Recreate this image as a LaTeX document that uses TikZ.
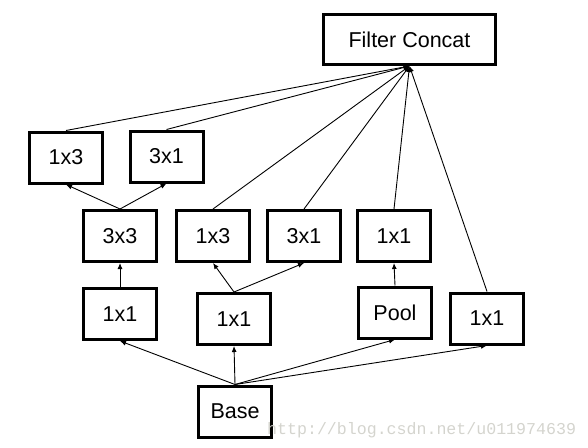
\documentclass[tikz,border=0pt]{standalone}
\usepackage{fontspec}
\setmainfont{Liberation Sans}
\newfontfamily\wmfont{Liberation Mono}
\usetikzlibrary{arrows.meta}
\definecolor{wmgray}{RGB}{212,212,206}
\begin{document}
\begin{tikzpicture}[x=1pt,y=-1pt,
  blk/.style={draw=black,line width=3pt,minimum width=73pt,minimum height=51pt,inner sep=0pt,
    font=\fontsize{21.5}{25}\selectfont},
  conn/.style={line width=0.9pt,-{Latex[length=6pt,width=5pt]}},
  plain/.style={line width=0.9pt}]
\useasboundingbox (0,0) rectangle (588,447);
\node[blk,minimum width=172pt,minimum height=50pt] (concat) at (409.5,39.5) {Filter Concat};
\node[blk] (a13) at (66,157.5) {1x3};
\node[blk] (a31) at (166.5,156.5) {3x1};
\node[blk] (b33) at (120,236) {3x3};
\node[blk] (b13) at (213,236) {1x3};
\node[blk] (b31) at (304,236) {3x1};
\node[blk] (b11) at (394,236) {1x1};
\node[blk] (c11a) at (120,314) {1x1};
\node[blk] (c11b) at (234,319) {1x1};
\node[blk] (pool) at (395,312.5) {Pool};
\node[blk] (c11d) at (487,318.5) {1x1};
\node[blk] (base) at (235,411.5) {Base};
\node[anchor=base west,inner sep=0pt,text=wmgray,font=\wmfont\fontsize{16.6}{18}\selectfont] (wm) at (267,434) {http://blog.csdn.net/u011974639};
% Base to row 3
\foreach \t in {c11a,c11b,pool,c11d}
  \draw[conn] (base.north) -- (\t.south);
% row 3 to row 2
\draw[conn] (c11a.north) -- (b33.south);
\draw[conn] (c11b.north) -- (b13.south);
\draw[conn] (c11b.north) -- (b31.south);
\draw[conn] (pool.north) -- (b11.south);
% row 2 to row 1
\draw[conn] (b33.north) -- (a13.south);
\draw[conn] (b33.north) -- (a31.south);
% to concat
\foreach \s in {a13,a31,b13,b31,b11,c11d}
  \draw[conn] (\s.north) -- (concat.south);
\end{tikzpicture}
\end{document}
